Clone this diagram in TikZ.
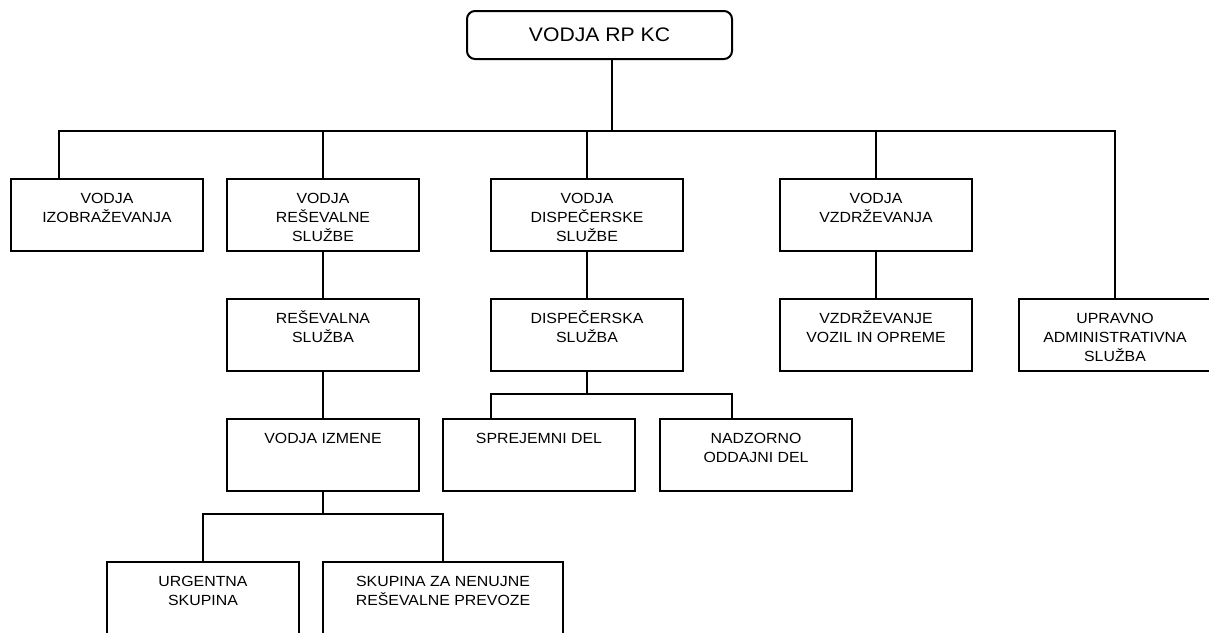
\documentclass[tikz,border=0pt]{standalone}
\usepackage{fontspec}
\setmainfont{Liberation Sans}
\newfontfamily\orgfont[FakeStretch=1.08]{Liberation Sans}
% centred block of lines, aligned on the baseline of its first line
\newcommand\boxlines[1]{\parbox[t]{230pt}{\centering #1}}
\begin{document}
\begin{tikzpicture}[x=1pt,y=1pt,
  unit/.style={draw, line width=2pt, minimum width=192pt, minimum height=72pt,
    inner sep=0pt, outer sep=0pt},
  caption/.style={anchor=base, inner sep=0pt, yshift=-24.8pt,
    font=\orgfont\fontsize{14.7}{19}\selectfont},
  headbox/.style={draw, line width=2pt, rounded corners=8pt, minimum width=265pt,
    minimum height=48pt, inner sep=0pt, outer sep=0pt,
    font=\orgfont\fontsize{19.6}{24}\selectfont},
  link/.style={line width=2pt},
]
\useasboundingbox (0,0) rectangle (1209,-632);
\clip (0,0) rectangle (1209,-632);

% head of the organisation
\node[headbox] (head) at (599.5,-35) {VODJA RP KC};

% first level
\node[unit, label={[caption]north:{\boxlines{VODJA\\IZOBRAŽEVANJA}}}] (izo) at (107,-215) {};
\node[unit, label={[caption]north:{\boxlines{VODJA\\REŠEVALNE\\SLUŽBE}}}] (res) at (323,-215) {};
\node[unit, label={[caption]north:{\boxlines{VODJA\\DISPEČERSKE\\SLUŽBE}}}] (dis) at (587,-215) {};
\node[unit, label={[caption]north:{\boxlines{VODJA\\VZDRŽEVANJA}}}] (vzd) at (876,-215) {};

% second level
\node[unit, label={[caption]north:{\boxlines{REŠEVALNA\\SLUŽBA}}}] (resS) at (323,-335) {};
\node[unit, label={[caption]north:{\boxlines{DISPEČERSKA\\SLUŽBA}}}] (disS) at (587,-335) {};
\node[unit, label={[caption]north:{\boxlines{VZDRŽEVANJE\\VOZIL IN OPREME}}}] (vzdV) at (876,-335) {};
\node[unit, label={[caption]north:{\boxlines{UPRAVNO\\ADMINISTRATIVNA\\SLUŽBA}}}] (upr) at (1115,-335) {};

% third level
\node[unit, label={[caption]north:{\boxlines{VODJA IZMENE}}}] (izm) at (323,-455) {};
\node[unit, label={[caption]north:{\boxlines{SPREJEMNI DEL}}}] (spr) at (539,-455) {};
\node[unit, label={[caption]north:{\boxlines{NADZORNO\\ODDAJNI DEL}}}] (nad) at (756,-455) {};

% fourth level
\node[unit, label={[caption]north:{\boxlines{URGENTNA\\SKUPINA}}}] (urg) at (203,-598) {};
\node[unit, minimum width=240pt, label={[caption]north:{\boxlines{SKUPINA ZA NENUJNE\\REŠEVALNE PREVOZE}}}] (sku) at (443,-598) {};

% main bus under the head
\coordinate (drop) at (612,-131);
\coordinate (busL) at (59,-131);
\coordinate (busR) at (1115,-131);
\draw[link] (head.south -| drop) -- (drop);
\draw[link] (izo.north -| busL) -- (busL) -- (busR) -- (upr.north);
\draw[link] (res.north) -- (res.north |- busL);
\draw[link] (dis.north) -- (dis.north |- busL);
\draw[link] (vzd.north) -- (vzd.north |- busL);

% vertical chains
\draw[link] (res.south) -- (resS.north);
\draw[link] (resS.south) -- (izm.north);
\draw[link] (dis.south) -- (disS.north);
\draw[link] (vzd.south) -- (vzdV.north);

% dispatch service split
\coordinate (dL) at (491,-394);
\coordinate (dR) at (732,-394);
\draw[link] (disS.south) -- (disS.south |- dL);
\draw[link] (spr.north -| dL) -- (dL) -- (dR) -- (nad.north -| dR);

% shift leader split
\coordinate (iL) at (203,-514);
\coordinate (iR) at (443,-514);
\draw[link] (izm.south) -- (izm.south |- iL);
\draw[link] (urg.north) -- (iL) -- (iR) -- (sku.north);
\end{tikzpicture}
\end{document}
